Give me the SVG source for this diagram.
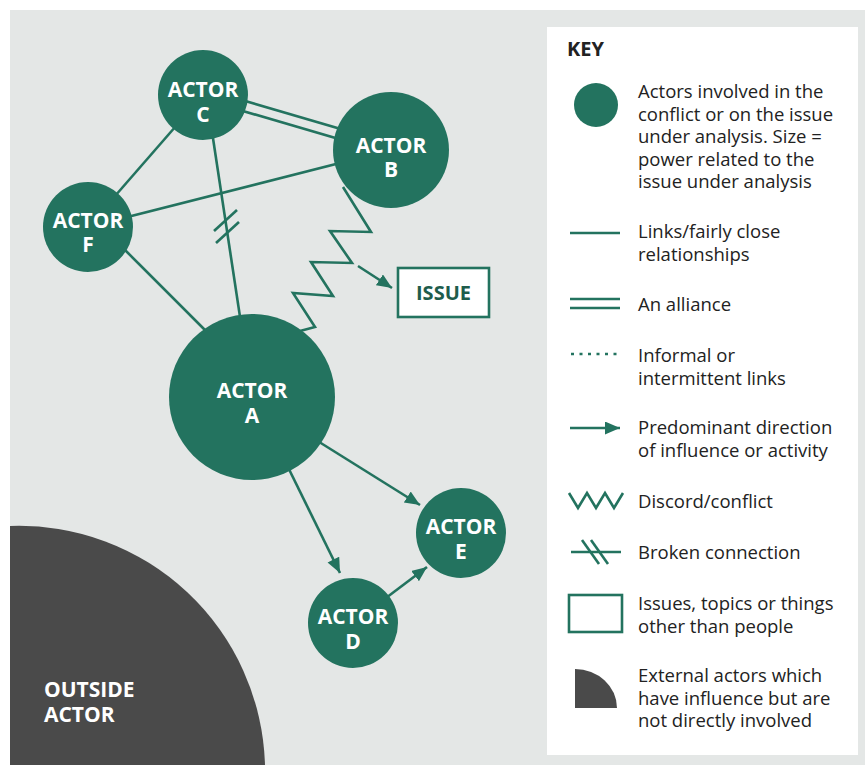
<svg xmlns="http://www.w3.org/2000/svg" width="865" height="765" viewBox="0 0 865 765">
<defs>
<style>
.ln{stroke:#23735f;stroke-width:2.6;fill:none;stroke-linejoin:miter}
.act{fill:#23735f}
.lbl{font-family:"Open Sans","Liberation Sans",sans-serif;font-weight:700;font-size:21px;fill:#ffffff;text-anchor:middle}
.out{font-family:"Open Sans","Liberation Sans",sans-serif;font-weight:700;font-size:21px;fill:#ffffff}
.key{font-family:"Open Sans","Liberation Sans",sans-serif;font-size:18.5px;fill:#222222}
.keyh{font-family:"Open Sans","Liberation Sans",sans-serif;font-weight:700;font-size:20px;fill:#222222}
.ext{fill:#4a4a4a}
</style>
<marker id="arr" markerUnits="userSpaceOnUse" markerWidth="16" markerHeight="14" refX="15" refY="6.5" orient="auto">
<path d="M0,0 L15,6.5 L0,13 z" fill="#23735f"/>
</marker>
</defs>
<rect x="0" y="0" width="865" height="765" fill="#ffffff"/>
<rect x="10" y="10" width="855" height="755" fill="#e4e7e6"/>

<g id="outside-actor">
<path class="ext" d="M10,765 V526 A246,246 0 0 1 265,765 Z"/>
<text class="out" x="44" y="697">OUTSIDE<tspan x="44" dy="25">ACTOR</tspan></text>
</g>

<g id="connectors">
<line class="ln" x1="203" y1="95" x2="88" y2="227"/>
<line class="ln" x1="88" y1="227" x2="391" y2="150"/>
<line class="ln" x1="120" y1="245" x2="215" y2="340"/>
<line class="ln" x1="211" y1="125" x2="242" y2="330"/>
<line class="ln" x1="214" y1="231" x2="237" y2="210"/>
<line class="ln" x1="216" y1="243" x2="239" y2="222"/>
<line class="ln" x1="204" y1="89" x2="392" y2="144"/>
<line class="ln" x1="202" y1="99" x2="390" y2="154"/>
<polyline class="ln" points="343,187 371,232 330,231 352,263 311,262 333,296 293,293 315,327 300,331"/>
<line class="ln" x1="358" y1="266" x2="392" y2="288" marker-end="url(#arr)"/>
<line class="ln" x1="300" y1="430" x2="420" y2="505" marker-end="url(#arr)"/>
<line class="ln" x1="282" y1="455" x2="340" y2="573" marker-end="url(#arr)"/>
<line class="ln" x1="370" y1="610" x2="427" y2="567" marker-end="url(#arr)"/>
</g>

<g id="actor-c">
<circle class="act" cx="203" cy="95" r="45"/>
<text class="lbl" x="203" y="97">ACTOR<tspan x="203" dy="25">C</tspan></text>
</g>
<g id="actor-b">
<circle class="act" cx="391" cy="150" r="58"/>
<text class="lbl" x="391" y="153">ACTOR<tspan x="391" dy="24">B</tspan></text>
</g>
<g id="actor-f">
<circle class="act" cx="88" cy="227" r="45"/>
<text class="lbl" x="88" y="228">ACTOR<tspan x="88" dy="24">F</tspan></text>
</g>
<g id="actor-a">
<circle class="act" cx="252" cy="397" r="83"/>
<text class="lbl" x="252" y="398">ACTOR<tspan x="252" dy="25">A</tspan></text>
</g>
<g id="actor-e">
<circle class="act" cx="461" cy="533" r="45"/>
<text class="lbl" x="461" y="534">ACTOR<tspan x="461" dy="25">E</tspan></text>
</g>
<g id="actor-d">
<circle class="act" cx="353" cy="623" r="45"/>
<text class="lbl" x="353" y="624">ACTOR<tspan x="353" dy="25">D</tspan></text>
</g>
<g id="issue">
<rect x="398" y="268" width="91" height="49" fill="#ffffff" stroke="#23735f" stroke-width="2.6"/>
<text x="443.5" y="300" font-family="'Open Sans','Liberation Sans',sans-serif" font-weight="700" font-size="20" fill="#1e5c4c" text-anchor="middle">ISSUE</text>
</g>

<g id="key">
<rect x="547" y="27" width="311" height="728" fill="#ffffff"/>
<text class="keyh" x="567" y="56">KEY</text>
<circle class="act" cx="596" cy="105" r="22"/>
<text class="key" x="638" y="98">Actors involved in the<tspan x="638" dy="22.5">conflict or on the issue</tspan><tspan x="638" dy="22.5">under analysis. Size =</tspan><tspan x="638" dy="22.5">power related to the</tspan><tspan x="638" dy="22.5">issue under analysis</tspan></text>
<line class="ln" x1="570" y1="233" x2="620" y2="233"/>
<text class="key" x="638" y="238">Links/fairly close<tspan x="638" dy="22.5">relationships</tspan></text>
<line class="ln" x1="570" y1="299" x2="620" y2="299"/>
<line class="ln" x1="570" y1="308" x2="620" y2="308"/>
<text class="key" x="638" y="311">An alliance</text>
<line class="ln" x1="571" y1="354" x2="621" y2="354" stroke-width="3" stroke-dasharray="3 5.5"/>
<text class="key" x="638" y="362">Informal or<tspan x="638" dy="22.5">intermittent links</tspan></text>
<line class="ln" x1="570" y1="428" x2="620" y2="428" marker-end="url(#arr)"/>
<text class="key" x="638" y="434">Predominant direction<tspan x="638" dy="22.5">of influence or activity</tspan></text>
<polyline class="ln" points="569,493 578,508 587,493 596,508 605,493 614,508 623,493"/>
<text class="key" x="638" y="508">Discord/conflict</text>
<line class="ln" x1="571" y1="552" x2="621" y2="552"/>
<line class="ln" x1="582" y1="540" x2="599" y2="564"/>
<line class="ln" x1="591" y1="540" x2="608" y2="564"/>
<text class="key" x="638" y="559">Broken connection</text>
<rect x="569" y="595" width="53" height="37" fill="none" stroke="#23735f" stroke-width="2.6"/>
<text class="key" x="638" y="610">Issues, topics or things<tspan x="638" dy="22.5">other than people</tspan></text>
<path class="ext" d="M575,708 V669 A42,39 0 0 1 617,708 Z"/>
<text class="key" x="638" y="682">External actors which<tspan x="638" dy="22.5">have influence but are</tspan><tspan x="638" dy="22.5">not directly involved</tspan></text>
</g>
</svg>
